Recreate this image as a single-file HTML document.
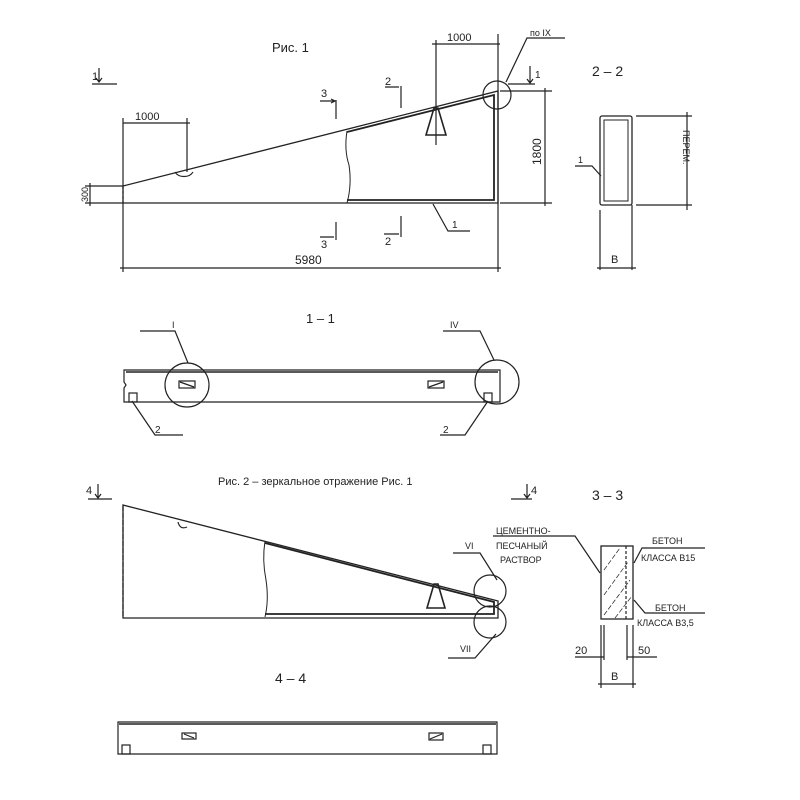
<!DOCTYPE html>
<html><head><meta charset="utf-8"><style>
html,body{margin:0;padding:0;background:#fff;}
svg{display:block}
text{font-family:"Liberation Sans","DejaVu Sans",sans-serif;fill:#222;}
</style></head><body>
<svg width="800" height="800" viewBox="0 0 800 800" xmlns="http://www.w3.org/2000/svg">
<g stroke="#222" fill="none" stroke-width="1.2">
<!-- Fig 1 -->
<text x="272" y="52" font-size="13" stroke="none">Рис. 1</text>
<text x="92" y="80" font-size="11" stroke="none">1</text>
<path d="M99 68 V82 M96 78 L99 82 L102 78 M92 84 H117"/>
<path d="M123 186 L498 91 L498 203 L123 203 Z" stroke-width="1.3"/>
<path d="M123 186 V203" stroke-dasharray="3,2"/>
<path d="M347 131 Q344 150 349 165 Q352 185 347 203" stroke-width="1"/>
<path d="M347 132 L494 95 L494 200 L347 200" stroke-width="1.8"/>
<path d="M175 172 A10 8 0 0 0 193 172"/>
<path d="M426 135 L434 108 L438 108 L446 135 Z" stroke-width="1.6"/>
<circle cx="497" cy="95" r="14"/>
<path d="M506 82 L527 38 H565"/>
<text x="530" y="36" font-size="9" stroke="none">по IX</text>
<path d="M508 84 H535 M530 66 V83 M527 79 L530 83 L533 79"/>
<text x="535" y="78" font-size="10" stroke="none">1</text>
<!-- dims fig1 -->
<path d="M123 123 H190 M123 118 V186 M187 118 V172"/>
<text x="135" y="120" font-size="11" stroke="none">1000</text>
<path d="M432 44 H500 M436 40 V145 M498 34 V272"/>
<text x="447" y="41" font-size="11" stroke="none">1000</text>
<path d="M500 91 H552 M500 203 H552 M545 88 V206"/>
<text x="0" y="0" font-size="12" stroke="none" transform="translate(541,165) rotate(-90)">1800</text>
<path d="M85 186 H123 M85 203 H123 M90 183 V206"/>
<text x="0" y="0" font-size="9" stroke="none" transform="translate(88,202) rotate(-90)">300</text>
<path d="M123 203 V272 M120 268 H501"/>
<text x="295" y="264" font-size="12" stroke="none">5980</text>
<path d="M336 100 V119 M320 101 H334 M331 99 L335 101 L331 103"/>
<text x="321" y="97" font-size="11" stroke="none">3</text>
<path d="M336 222 V240 M320 237 H334"/>
<text x="321" y="248" font-size="11" stroke="none">3</text>
<path d="M401 86 V108 M385 87 H399"/>
<text x="385" y="85" font-size="11" stroke="none">2</text>
<path d="M401 216 V237 M384 234 H399"/>
<text x="385" y="245" font-size="11" stroke="none">2</text>
<path d="M433 204 L448 231 H470"/>
<text x="452" y="228" font-size="10" stroke="none">1</text>
<!-- 2-2 -->
<text x="592" y="76" font-size="14" stroke="none">2 – 2</text>
<rect x="600" y="116" width="32" height="89" rx="2" stroke-width="1.3"/>
<rect x="604" y="120" width="24" height="81" stroke-width="1"/>
<path d="M636 116 H692 M636 205 H692 M687 112 V210"/>
<text x="0" y="0" font-size="9" stroke="none" transform="translate(683,130) rotate(90)">ПЕРЕМ.</text>
<path d="M575 166 H592 L601 176"/>
<text x="578" y="163" font-size="9" stroke="none">1</text>
<path d="M600 210 V270 M632 205 V270 M597 268 H636"/>
<text x="611" y="263" font-size="11" stroke="none">B</text>
<!-- 1-1 -->
<text x="306" y="323" font-size="13" stroke="none">1 – 1</text>
<path d="M124 370 H500 V402 H124 V388 L126 385 L124 382 Z" stroke-width="1.2"/>
<path d="M126 372 H498" stroke-width="1.5"/>
<rect x="129" y="393" width="8" height="9"/>
<rect x="484" y="393" width="8" height="9"/>
<rect x="179" y="381" width="16" height="7"/><path d="M180 382 L194 387"/>
<rect x="428" y="381" width="16" height="7"/><path d="M429 387 L443 382"/>
<circle cx="187" cy="385" r="22"/>
<circle cx="497" cy="382" r="22"/>
<path d="M140 331 H175 L188 363"/>
<text x="172" y="328" font-size="9" stroke="none">I</text>
<path d="M443 331 H480 L494 360"/>
<text x="450" y="328" font-size="9" stroke="none">IV</text>
<path d="M132 401 L155 435 H183"/>
<text x="155" y="433" font-size="10" stroke="none">2</text>
<path d="M488 401 L465 435 H440"/>
<text x="443" y="433" font-size="10" stroke="none">2</text>
<!-- Fig 2 -->
<text x="218" y="485" font-size="11" stroke="none">Рис. 2 – зеркальное отражение Рис. 1</text>
<text x="86" y="494" font-size="11" stroke="none">4</text>
<path d="M98 484 V498 M95 494 L98 498 L101 494 M88 499 H112"/>
<path d="M511 499 H532 M527 484 V498 M524 494 L527 498 L530 494"/>
<text x="531" y="494" font-size="11" stroke="none">4</text>
<path d="M123 505 L498 601 V618 H123 Z" stroke-width="1.3"/>
<path d="M123 506 V617" stroke-dasharray="5,2"/>
<path d="M265 541 Q262 560 266 580 Q269 600 265 617" stroke-width="1"/>
<path d="M265 543 L494 602 V614 H265" stroke-width="1.8"/>
<path d="M178 522 Q180 530 187 527"/>
<path d="M427 608 L434 584 L438 584 L445 608 Z" stroke-width="1.6"/>
<circle cx="490" cy="591" r="16"/>
<circle cx="490" cy="622" r="16"/>
<path d="M453 553 H480 L497 580"/>
<text x="465" y="549" font-size="9" stroke="none">VI</text>
<path d="M448 658 H475 L496 634"/>
<text x="460" y="652" font-size="9" stroke="none">VII</text>
<!-- 3-3 -->
<text x="592" y="500" font-size="14" stroke="none">3 – 3</text>
<rect x="601" y="546" width="32" height="73" stroke-width="1.3"/>
<path d="M626 546 V619" stroke-dasharray="3,2"/>
<path d="M604 570 L620 548 M604 595 L628 562 M604 615 L630 580 M615 618 L632 596" stroke-width="0.7" stroke-dasharray="5,2"/>
<path d="M493 536 H575 L600 573"/>
<text x="496" y="534" font-size="9" stroke="none">ЦЕМЕНТНО-</text>
<text x="496" y="549" font-size="9" stroke="none">ПЕСЧАНЫЙ</text>
<text x="500" y="563" font-size="9" stroke="none">РАСТВОР</text>
<text x="652" y="544" font-size="9" stroke="none">БЕТОН</text>
<path d="M634 563 L642 548 H705"/>
<text x="641" y="561" font-size="9" stroke="none">КЛАССА В15</text>
<text x="655" y="611" font-size="9" stroke="none">БЕТОН</text>
<path d="M634 600 L645 613 H705"/>
<text x="637" y="626" font-size="9" stroke="none">КЛАССА В3,5</text>
<path d="M601 625 V688 M604 625 V660 M627 625 V660 M633 625 V688"/>
<path d="M575 657 H604 M627 657 H657 M598 684 H636"/>
<text x="575" y="654" font-size="11" stroke="none">20</text>
<text x="638" y="654" font-size="11" stroke="none">50</text>
<text x="611" y="680" font-size="11" stroke="none">B</text>
<!-- 4-4 -->
<text x="275" y="683" font-size="14" stroke="none">4 – 4</text>
<path d="M118 722 H497 V754 H118 Z" stroke-width="1.2"/>
<path d="M119 724 H496" stroke-width="1.5"/>
<rect x="122" y="745" width="8" height="9"/>
<rect x="483" y="745" width="8" height="9"/>
<rect x="182" y="733" width="14" height="6"/><path d="M184 734 L194 738"/>
<rect x="429" y="733" width="14" height="7"/><path d="M430 739 L442 734"/>
</g>
</svg>
</body></html>
